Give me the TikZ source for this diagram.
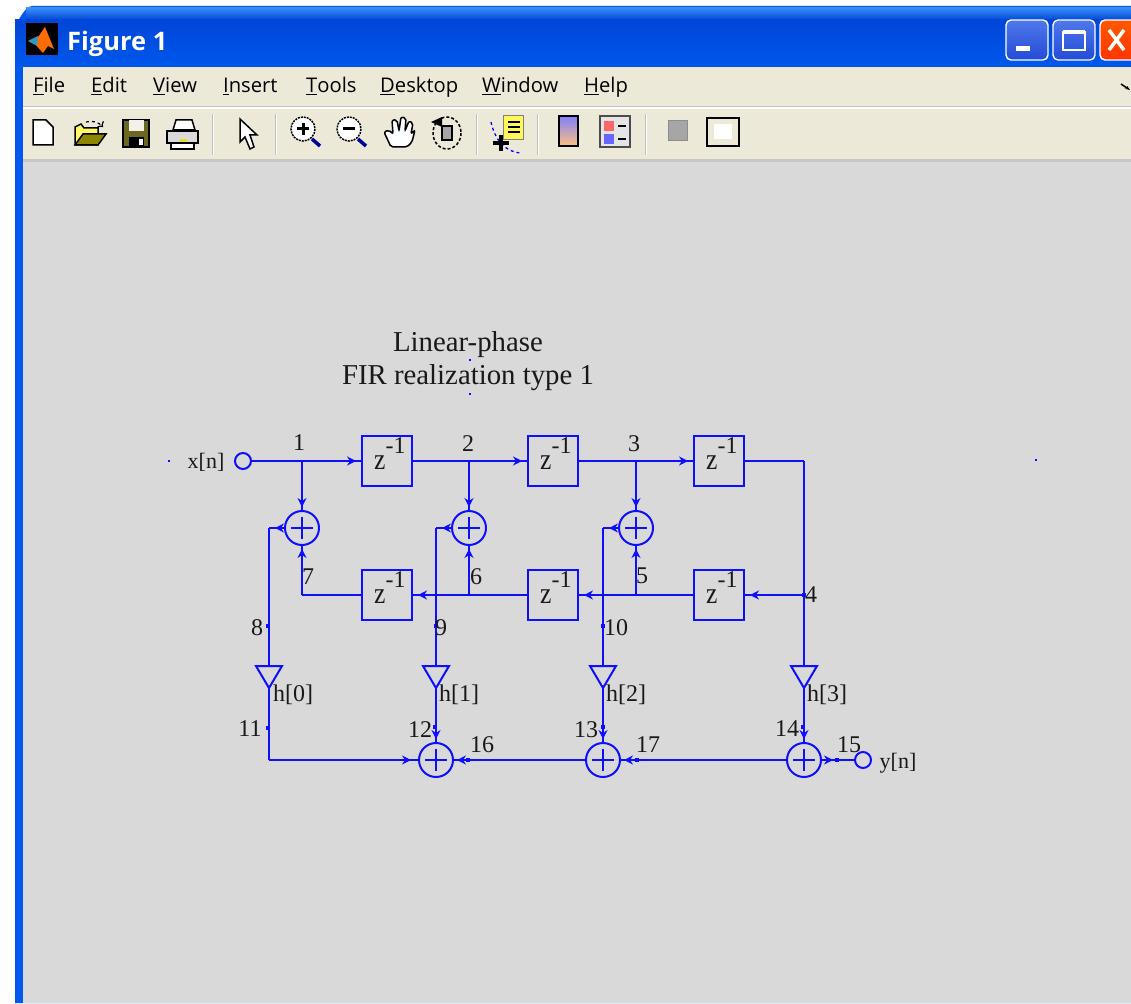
\documentclass[tikz,border=0pt]{standalone}
\usepackage{fontspec}
\usepackage{graphicx}
\setmainfont{Liberation Serif}
\newfontfamily\uifont{Open Sans}
\usetikzlibrary{shapes.geometric,decorations.markings,arrows.meta,calc}
\definecolor{sig}{RGB}{15,15,255}
\definecolor{figbg}{RGB}{217,217,217}
\definecolor{beige}{RGB}{236,233,216}
\definecolor{xpblue}{RGB}{0,88,236}
\definecolor{xpdark}{RGB}{0,70,216}
\definecolor{xplight}{RGB}{58,140,245}
\definecolor{btnhi}{RGB}{80,120,235}
\definecolor{btnlo}{RGB}{35,75,215}
\definecolor{tinktxt}{RGB}{25,25,25}
\tikzset{
 x=1pt,y=-1pt,
 wire/.style={draw=sig,line width=2.6pt},
 tipat/.style={postaction={decorate,decoration={markings,mark=at position #1 with {\arrow[sig]{Stealth[length=9pt,width=9pt,inset=3pt]}}}}},
 delaybox/.style={draw=sig,line width=2.4pt,minimum width=50pt,minimum height=50pt,inner sep=0pt,outer sep=0pt},
 adder/.style={circle,draw=sig,line width=2pt,minimum size=34pt,inner sep=0pt,outer sep=0pt,
   path picture={\draw[sig,line width=1.8pt] ($(path picture bounding box.center)+(-11,0)$)--($(path picture bounding box.center)+(11,0)$) ($(path picture bounding box.center)+(0,-11)$)--($(path picture bounding box.center)+(0,11)$);}},
 port/.style={circle,draw=sig,line width=2pt,minimum size=16pt,inner sep=0pt,outer sep=0pt},
 gain/.style={isosceles triangle,isosceles triangle stretches,shape border rotate=270,draw=sig,line width=2pt,minimum width=26pt,minimum height=22pt,inner sep=0pt,outer sep=0pt,anchor=apex},
 junct/.style={inner sep=0pt,outer sep=0pt,minimum size=0pt},
 speck/.style={fill=sig,inner sep=0pt,minimum width=4.5pt,minimum height=4.5pt,outer sep=0pt},
 txt/.style={text=tinktxt,inner sep=0pt,font=\fontsize{24}{26}\selectfont},
 ttl/.style={text=tinktxt,inner sep=0pt,font=\fontsize{28.8}{31}\selectfont},
 zed/.style={text=tinktxt,inner sep=0pt,anchor=base west,font=\fontsize{24}{26}\selectfont},
 menu/.style={anchor=base west,inner sep=0pt,text=black,font=\uifont\fontsize{20.2}{24}\selectfont},
 sep/.style={draw=white,line width=1.2pt,postaction={draw=black!25,line width=.6pt,transform canvas={xshift=-1pt}}},
 ic/.style={draw=black,line width=1.5pt},
}
\newcommand{\zlabel}{\scalebox{.85}[1]{\fontsize{30}{32}\selectfont z}\raisebox{16pt}{-1}}
\begin{document}
\begin{tikzpicture}
\useasboundingbox (0,0) rectangle (1131,1003);
\fill[white] (0,0) rectangle (1131,1003);
% window frame
\fill[xpblue] (15,1003) -- (15,22) to[out=-90,in=180] (32,6) -- (1131,6) -- (1131,1003) -- cycle;
\shade[top color=xplight,bottom color=xpdark] (26,8) rectangle (1131,20);
\shade[top color=xpdark,bottom color=xpblue] (15,20) rectangle (1131,67);
\fill[beige] (23,67) rectangle (1131,107);
\fill[black!25] (23,106) rectangle (1131,107.5);
\fill[white] (23,107.5) rectangle (1131,109.5);
\fill[beige] (23,109.5) rectangle (1131,160);
\fill[black!22] (23,159) rectangle (1131,162);
\fill[figbg] (23,162) rectangle (1131,1003);
% title icon
\fill[black] (26,23) rectangle (58,55);
\fill[orange!85!red] (34,43) -- (45,27) -- (54,49) -- (48,46) -- (43,53) -- cycle;
\fill[cyan!60!teal] (28,41) -- (38,36) -- (37,46) -- cycle;
\node[anchor=base west,inner sep=0pt,text=white,font=\uifont\bfseries\fontsize{25.5}{28}\selectfont] (wintitle) at (67,51) {Figure 1};
% window buttons
\begin{scope}[line width=1.4pt]
\shade[draw=white,rounded corners=5pt,top color=btnhi,bottom color=btnlo] (1006,20) rectangle (1048,60);
\fill[white] (1016,46) rectangle (1030,51);
\shade[draw=white,rounded corners=5pt,top color=btnhi,bottom color=btnlo] (1053,20) rectangle (1095,60);
\draw[white,line width=1.6pt] (1063,32) rectangle (1085,50);
\fill[white] (1063,30) rectangle (1085,34);
\shade[draw=white,rounded corners=5pt,top color=orange!70!red,bottom color=red!60!orange] (1100,20) rectangle (1140,60);
\draw[white,line width=3.5pt] (1109,30) -- (1124,50) (1124,30) -- (1109,50);
\end{scope}
% menu
\node[menu] (mfile) at (33,93) {\underline{F}ile};
\node[menu] (medit) at (91,93) {\underline{E}dit};
\node[menu] (mview) at (153,93) {\underline{V}iew};
\node[menu] (minsert) at (223,93) {\underline{I}nsert};
\node[menu] (mtools) at (306,93) {\underline{T}ools};
\node[menu] (mdesk) at (380,93) {\underline{D}esktop};
\node[menu] (mwin) at (482,93) {\underline{W}indow};
\node[menu] (mhelp) at (584,93) {\underline{H}elp};
\draw[black,line width=1.5pt,-{Stealth[length=5pt]}] (1121,84) -- (1130,90);
% toolbar separators
\foreach \sx in {213,276,477,538,646} \draw[sep] (\sx,114) -- (\sx,155);
% new
\draw[ic,fill=white] (33,120) -- (46,120) -- (53,127) -- (53,145) -- (33,145) -- cycle;
% open
\draw[ic,fill=yellow!60!white] (75,132) -- (75,145) -- (98,145) -- (98,128) -- (84,128) -- (81,124) -- (75,127) -- cycle;
\draw[ic,fill=olive] (75,145) -- (83,134) -- (106,134) -- (98,145) -- cycle;
\draw[black,line width=1.2pt,dashed,->] (86,122) to[bend left=30] (103,127);
% save
\draw[ic,fill=olive!70!black] (123,120) rectangle (149,147);
\fill[beige!60!white] (129,120) rectangle (144,131);
\fill[black] (129,137) rectangle (144,147);
\fill[white] (139,139) rectangle (143,145);
% print
\draw[ic,fill=white] (176,120) -- (192,120) -- (195,130) -- (173,130) -- cycle;
\draw[ic,fill=black!15] (167,131) rectangle (198,143);
\draw[ic,fill=white] (171,143) rectangle (194,149);
\fill[yellow!90!black] (180,139) rectangle (187,142);
% pointer
\draw[ic,fill=white] (240,119) -- (240,142) -- (245,137) -- (250,149) -- (254,147) -- (250,135) -- (257,135) -- cycle;
% zoom in
\draw[black,line width=1.5pt,dash pattern=on 2pt off 1pt,fill=white] (303,129) circle (12);
\draw[black,line width=3pt] (297,129) -- (309,129) (303,123) -- (303,135);
\draw[blue!60!black,line width=3.5pt] (312,139) -- (320,146);
% zoom out
\draw[black,line width=1.5pt,dash pattern=on 2pt off 1pt,fill=white] (349,129) circle (12);
\draw[black,line width=3pt] (343,129) -- (355,129);
\draw[blue!60!black,line width=3.5pt] (358,139) -- (366,146);
% hand
\draw[ic,fill=white,rounded corners=2pt] (391,147) -- (384,132) -- (389,130) -- (393,134) -- (392,120) -- (397,120) -- (399,131) -- (401,117) -- (406,118) -- (405,131) -- (409,121) -- (413,123) -- (411,134) -- (415,130) -- (412,142) -- (407,147) -- cycle;
% rotate
\draw[black,line width=1.5pt,dash pattern=on 3pt off 2pt] (447,133) ellipse (14 and 16);
\draw[ic,fill=black!35] (442,126) rectangle (452,140);
\fill[black] (431,122) -- (442,117) -- (442,127) -- cycle;
% data cursor
\draw[black!50,line width=1pt,fill=yellow!65!white] (503,116) rectangle (523,140);
\foreach \ly in {122,127,132} \draw[black,line width=1.4pt] (508,\ly) -- (520,\ly);
\draw[blue,line width=1.3pt,dashed] (491,122) .. controls (495,140) and (505,152) .. (521,153);
\draw[black,line width=3.5pt] (493,143) -- (509,143) (501,135) -- (501,151);
% colorbar
\shade[draw=black,line width=1.5pt,top color=blue!50!white,middle color=green!40!yellow!60!white,bottom color=orange!50!white] (559,116) rectangle (578,146);
% legend
\draw[black!70,line width=1.5pt,fill=black!10] (600,116) rectangle (630,147);
\fill[red!60!white] (604,121) rectangle (614,131);
\fill[blue!60!white] (604,134) rectangle (614,144);
\draw[black,line width=1.4pt] (618,126) -- (626,126) (618,139) -- (626,139);
% inactive
\draw[black!45,line width=1pt,fill=black!35] (668,121) rectangle (687,141);
\draw[black,line width=1.5pt,fill=beige] (707,118) rectangle (739,146);
\fill[white] (714,124) rectangle (732,139);

% ---------- diagram ----------
\node[ttl] (t1) at (468,345) {Linear-phase};
\node[ttl] (t2) at (468,378) {FIR realization type 1};
\foreach \nm/\a/\b in {s1/470/360,s2/470/394,s3/169/461,s4/1036/460}
  \node[fill=sig,inner sep=0pt,minimum size=2pt] (\nm) at (\a,\b) {};

\node[port] (xin) at (243,461) {};
\node[txt,font=\fontsize{22}{24}\selectfont] (xl) at (206,462) {x[n]};
\node[delaybox] (d1) at (387,461) {};
\node[delaybox] (d2) at (553,461) {};
\node[delaybox] (d3) at (719,461) {};
\node[delaybox] (d4) at (719,595) {};
\node[delaybox] (d5) at (553,595) {};
\node[delaybox] (d6) at (387,595) {};
\node[zed] (zd1) at (374,469) {\zlabel};
\node[zed] (zd2) at (540,469) {\zlabel};
\node[zed] (zd3) at (706,469) {\zlabel};
\node[zed] (zd4) at (706,603) {\zlabel};
\node[zed] (zd5) at (540,603) {\zlabel};
\node[zed] (zd6) at (374,603) {\zlabel};
\node[adder] (a1) at (302,528) {};
\node[adder] (a2) at (469,528) {};
\node[adder] (a3) at (636,528) {};
\node[adder] (b1) at (436,760) {};
\node[adder] (b2) at (603,760) {};
\node[adder] (b3) at (804,760) {};
\node[gain] (g0) at (269,688) {};
\node[gain] (g1) at (436,688) {};
\node[gain] (g2) at (603,688) {};
\node[gain] (g3) at (804,688) {};
\node[port] (yout) at (863,760) {};
\node[txt,font=\fontsize{22}{24}\selectfont] (yl) at (898,763) {y[n]};

\node[junct] (j1) at (302,461) {};
\node[junct] (j2) at (469,461) {};
\node[junct] (j3) at (636,461) {};
\node[junct] (c4) at (804,461) {};
\node[junct] (j4) at (804,595) {};
\node[junct] (j5) at (636,595) {};
\node[junct] (j6) at (469,595) {};
\node[junct] (c7) at (302,595) {};
\node[junct] (c8) at (269,528) {};
\node[junct] (c9) at (436,528) {};
\node[junct] (c10) at (603,528) {};
\node[junct] (c11) at (269,760) {};

\draw[wire] (xin.east) -- (j1);
\draw[wire,tipat=-6pt] (j1) -- (d1.west);
\draw[wire] (d1.east) -- (j2);
\draw[wire,tipat=-6pt] (j2) -- (d2.west);
\draw[wire] (d2.east) -- (j3);
\draw[wire,tipat=-6pt] (j3) -- (d3.west);
\draw[wire] (d3.east) -- (c4) -- (g3.lower side);
\draw[wire,tipat=-6pt] (j4) -- (d4.east);
\draw[wire] (d4.west) -- (j5);
\draw[wire,tipat=-6pt] (j5) -- (d5.east);
\draw[wire] (d5.west) -- (j6);
\draw[wire,tipat=-6pt] (j6) -- (d6.east);
\draw[wire] (d6.west) -- (c7);
\draw[wire,tipat=-4pt] (c7) -- (a1.south);
\draw[wire,tipat=-4pt] (j1) -- (a1.north);
\draw[wire,tipat=-4pt] (j2) -- (a2.north);
\draw[wire,tipat=-4pt] (j3) -- (a3.north);
\draw[wire,tipat=-4pt] (j6) -- (a2.south);
\draw[wire,tipat=-4pt] (j5) -- (a3.south);
\draw[wire,tipat=10pt] (a1.west) -- (c8) -- (g0.lower side);
\draw[wire,tipat=10pt] (a2.west) -- (c9) -- (g1.lower side);
\draw[wire,tipat=10pt] (a3.west) -- (c10) -- (g2.lower side);
\draw[wire,tipat=-4pt] (g1.apex) -- (b1.north);
\draw[wire,tipat=-4pt] (g2.apex) -- (b2.north);
\draw[wire,tipat=-4pt] (g3.apex) -- (b3.north);
\draw[wire] (g0.apex) -- (c11);
\draw[wire,tipat=-8pt] (c11) -- (b1.west);
\draw[wire,tipat=-4pt] (b2.west) -- (b1.east);
\draw[wire,tipat=-4pt] (b3.west) -- (b2.east);
\draw[wire,tipat=12pt] (b3.east) -- (yout.west);

% small markers at labelled signals
\foreach \nm/\a/\b in {m8/268/626,m9/436/626,m10/603/626,m11/268/728,m12/435/727,m13/603/727,m14/803/727,m15/837/760,m16/468/760,m17/637/760,m4/804/595}
  \node[speck] (\nm) at (\a,\b) {};

% labels
\node[txt] (n1) at (299,443) {1};
\node[txt] (n2) at (468,444) {2};
\node[txt] (n3) at (634,444) {3};
\node[txt] (n4) at (811,595) {4};
\node[txt] (n5) at (642,576) {5};
\node[txt] (n6) at (476,577) {6};
\node[txt] (n7) at (308,577) {7};
\node[txt] (n8) at (257,628) {8};
\node[txt] (n9) at (441,628) {9};
\node[txt] (n10) at (616,628) {10};
\node[txt] (n11) at (250,729) {11};
\node[txt] (n12) at (420,730) {12};
\node[txt] (n13) at (586,730) {13};
\node[txt] (n14) at (787,729) {14};
\node[txt] (n15) at (849,745) {15};
\node[txt] (n16) at (482,745) {16};
\node[txt] (n17) at (648,745) {17};
\node[txt] (h0) at (293,695) {h[0]};
\node[txt] (h1) at (459,695) {h[1]};
\node[txt] (h2) at (626,695) {h[2]};
\node[txt] (h3) at (827,695) {h[3]};
\end{tikzpicture}
\end{document}
